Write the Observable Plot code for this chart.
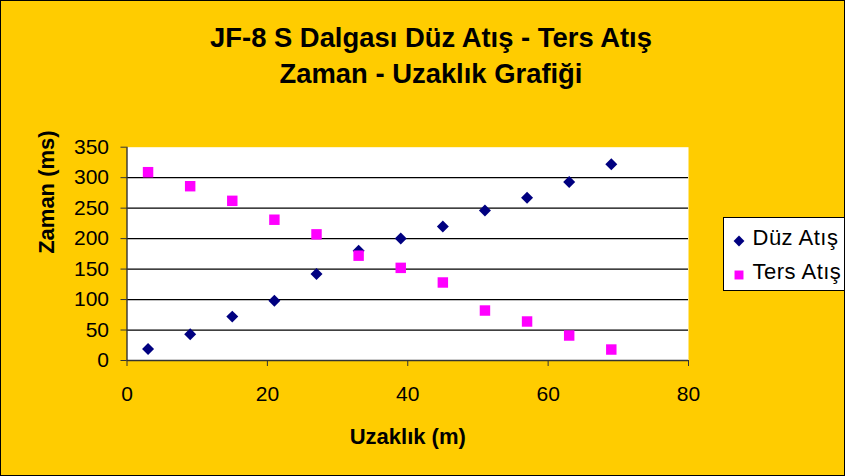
<!DOCTYPE html>
<html>
<head>
<meta charset="utf-8">
<script src="https://cdn.jsdelivr.net/npm/d3@7"></script>
<script src="https://cdn.jsdelivr.net/npm/@observablehq/plot@0.6"></script>
<style>
  body { margin: 0; background: #fff; }
  #chart { position: relative; width: 845px; height: 476px; background: #FFCC00; overflow: hidden;
           font-family: "Liberation Sans", Arial, sans-serif; color: #000; }
  #chart svg.plot { position: absolute; left: 0; top: 0; }
  #border { position: absolute; left: 0; top: 0; width: 845px; height: 476px; box-sizing: border-box;
            border: 1px solid #000; pointer-events: none; }
  .title { position: absolute; left: 0; width: 862px; text-align: center; font-weight: bold;
           font-size: 27.4px; line-height: 1; white-space: nowrap; }
  #legend { position: absolute; left: 723px; top: 217px; width: 140px; height: 74px; box-sizing: border-box;
            background: #fff; border: 1px solid #000; }
  #legend svg { position: absolute; left: 0; top: 0; overflow: visible; }
</style>
</head>
<body>
<div id="chart"></div>
<script>
// ---- data ----
const distances = [3, 9, 15, 21, 27, 33, 39, 45, 51, 57, 63, 69];
const duzAtis   = [19, 43, 72, 98, 142, 180, 200, 220, 246, 267, 293, 322];
const tersAtis  = [309, 286, 262, 231, 207, 172, 152, 128, 82, 64, 41, 18];
const seriesNames = ["Düz Atış", "Ters Atış"];
const seriesColors = ["#000080", "#FF00FF"];
const seriesSymbols = ["diamond2", "square"];
const xTicks = [0, 20, 40, 60, 80];
const yTicks = [0, 50, 100, 150, 200, 250, 300, 350];
const titleLines = ["JF-8 S Dalgası Düz Atış - Ters Atış", "Zaman - Uzaklık Grafiği"];
const xLabel = "Uzaklık (m)";
const yLabel = "Zaman (ms)";

const duzData = distances.map((d, i) => ({x: d, y: duzAtis[i]}));
const tersData = distances.map((d, i) => ({x: d, y: tersAtis[i]}));
const gridValues = yTicks.filter(v => v > 0 && v < 350);

const chart = document.getElementById("chart");

const plot = Plot.plot({
  width: 845,
  height: 476,
  marginLeft: 126.5,
  marginRight: 157,
  marginTop: 146.7,
  marginBottom: 116,
  style: {background: "transparent", fontSize: "21px", fontFamily: "'Liberation Sans', Arial, sans-serif", color: "#000", overflow: "visible"},
  x: {domain: [0, 80]},
  y: {domain: [0, 350]},
  marks: [
    Plot.frame({fill: "white", stroke: null}),
    Plot.ruleY(gridValues, {stroke: "#000", strokeWidth: 1.2}),
    Plot.ruleX([0], {stroke: "#333", strokeWidth: 1.4}),
    Plot.ruleY([0], {stroke: "#333", strokeWidth: 1.4}),
    Plot.axisX({ticks: xTicks, tickSize: 6, tickPadding: 20, label: null, stroke: "#333"}),
    Plot.axisY({ticks: yTicks, tickSize: 6, tickPadding: 12, label: null, stroke: "#333"}),
    Plot.dot(duzData, {x: "x", y: "y", symbol: seriesSymbols[0], fill: seriesColors[0], stroke: "none", r: 5.4}),
    Plot.dot(tersData, {x: "x", y: "y", symbol: seriesSymbols[1], fill: seriesColors[1], stroke: "none", r: 5.9}),
    Plot.text([xLabel], {frameAnchor: "bottom", dy: 83.3, lineAnchor: "bottom", fontWeight: "bold", fontSize: 22}),
    Plot.text([yLabel], {frameAnchor: "left", dx: -73.2, rotate: -90, lineAnchor: "bottom", fontWeight: "bold", fontSize: 22})
  ]
});
plot.classList.add("plot");
chart.appendChild(plot);

// titles
const titleTops = [24.3, 60.1];
titleLines.forEach((t, i) => {
  const div = document.createElement("div");
  div.className = "title";
  div.style.top = titleTops[i] + "px";
  div.textContent = t;
  chart.appendChild(div);
});

// legend
const legend = document.createElement("div");
legend.id = "legend";
const ns = "http://www.w3.org/2000/svg";
const lsvg = document.createElementNS(ns, "svg");
lsvg.setAttribute("width", 140);
lsvg.setAttribute("height", 74);
const symMap = {diamond2: d3.symbolDiamond2, square: d3.symbolSquare};
const symSize = [75, 80];
const rowCenters = [23, 57];
const baselines = [26.6, 61.2];
seriesNames.forEach((name, i) => {
  const p = document.createElementNS(ns, "path");
  p.setAttribute("d", d3.symbol(symMap[seriesSymbols[i]], symSize[i])());
  p.setAttribute("transform", `translate(15,${rowCenters[i]})`);
  p.setAttribute("fill", seriesColors[i]);
  lsvg.appendChild(p);
  const t = document.createElementNS(ns, "text");
  t.setAttribute("x", 28.5);
  t.setAttribute("y", baselines[i]);
  t.setAttribute("font-size", "22px");
  t.setAttribute("font-family", "'Liberation Sans', Arial, sans-serif");
  t.setAttribute("letter-spacing", "0.5");
  t.textContent = name;
  lsvg.appendChild(t);
});
legend.appendChild(lsvg);
chart.appendChild(legend);

const border = document.createElement("div");
border.id = "border";
chart.appendChild(border);
</script>
</body>
</html>
